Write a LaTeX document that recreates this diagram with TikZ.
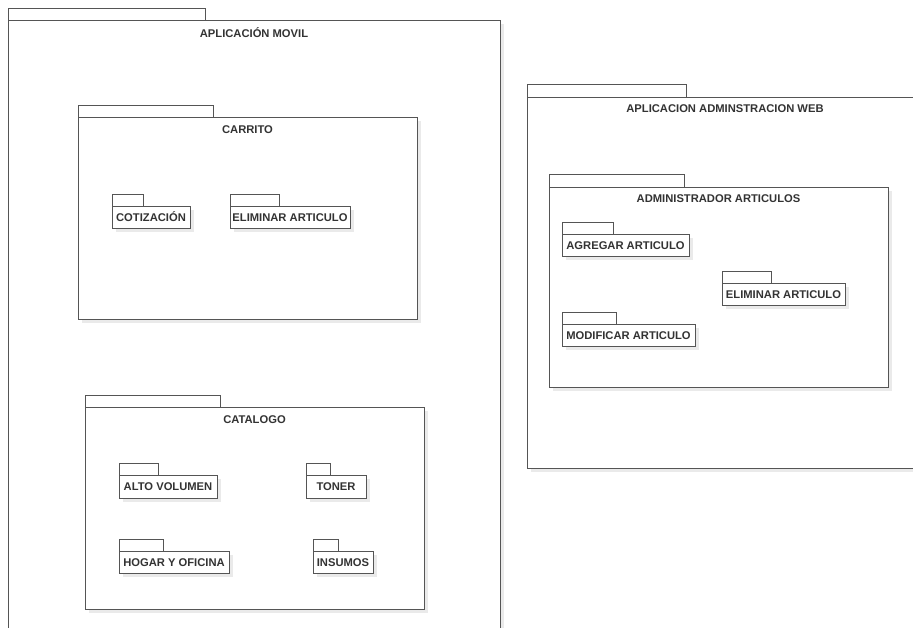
\documentclass[tikz,border=0pt]{standalone}
\usepackage{fontspec}
\setmainfont{Liberation Sans}
\usetikzlibrary{shadows,calc}
\definecolor{linec}{HTML}{555555}
\definecolor{textc}{HTML}{333333}
\definecolor{shadc}{HTML}{EAEAEA}
\tikzset{
  x=1pt,y=-1pt,
  pkgshadow/.style={drop shadow={shadow xshift=4pt,shadow yshift=-4pt,fill=shadc,opacity=1}},
  bigpkg/.style={draw=linec,fill=white,line width=0.9pt,pkgshadow,inner sep=0pt,outer sep=0pt},
  tabbox/.style={draw=linec,fill=white,line width=0.9pt},
  smallpkg/.style={draw=linec,fill=white,line width=0.9pt,pkgshadow,inner sep=0pt,outer sep=0pt,
     minimum height=22pt,text height=8pt,text depth=0pt,font=\bfseries\fontsize{11.2}{13}\selectfont,text=textc},
  pkgtitle/.style={anchor=base,font=\bfseries\fontsize{11.2}{13}\selectfont,text=textc,inner sep=0pt}
}
\begin{document}
\begin{tikzpicture}
\useasboundingbox (0,0) rectangle (913,627);
\clip (0,0) rectangle (913,627);
\fill[white] (0,0) rectangle (913,627);

% ---------- APLICACION MOVIL ----------
\draw[tabbox] (8,8) rectangle (205,20);
\node[bigpkg,minimum width=492pt,minimum height=640pt,anchor=north west] (movil) at (8,20) {};
\node[pkgtitle] (movilt) at ($(movil.north)+(0,17)$) {APLICACIÓN MOVIL};

% CARRITO
\draw[tabbox] (78,105) rectangle (213,117);
\node[bigpkg,minimum width=339pt,minimum height=202pt,anchor=north west] (carrito) at (78,117) {};
\node[pkgtitle] (carritot) at ($(carrito.north)+(0,16)$) {CARRITO};

\node[smallpkg,minimum width=78pt] (cot) at (151,217) {COTIZACIÓN};
\draw[tabbox] (cot.north west) rectangle ++(31,-12);
\node[smallpkg,minimum width=120pt] (elim1) at (290,217) {ELIMINAR ARTICULO};
\draw[tabbox] (elim1.north west) rectangle ++(49,-12);

% CATALOGO
\draw[tabbox] (85,395) rectangle (220,407);
\node[bigpkg,minimum width=339pt,minimum height=202pt,anchor=north west] (catalogo) at (85,407) {};
\node[pkgtitle] (catalogot) at ($(catalogo.north)+(0,16)$) {CATALOGO};

\node[smallpkg,minimum width=98pt,minimum height=23pt] (alto) at (168,486.5) {ALTO VOLUMEN};
\draw[tabbox] (alto.north west) rectangle ++(39,-12);
\node[smallpkg,minimum width=60pt,minimum height=23pt] (toner) at (336,486.5) {TONER};
\draw[tabbox] (toner.north west) rectangle ++(24,-12);
\node[smallpkg,minimum width=110pt] (hogar) at (174,562) {HOGAR Y OFICINA};
\draw[tabbox] (hogar.north west) rectangle ++(44,-12);
\node[smallpkg,minimum width=60pt] (insumos) at (343,562) {INSUMOS};
\draw[tabbox] (insumos.north west) rectangle ++(25,-12);

% ---------- APLICACION ADMINSTRACION WEB ----------
\draw[tabbox] (527,84) rectangle (686,97);
\node[bigpkg,minimum width=396pt,minimum height=371pt,anchor=north west] (web) at (527,97) {};
\node[pkgtitle] (webt) at ($(web.north)+(0,15)$) {APLICACION ADMINSTRACION WEB};

% ADMINISTRADOR ARTICULOS
\draw[tabbox] (549,174) rectangle (684,187);
\node[bigpkg,minimum width=339pt,minimum height=200pt,anchor=north west] (admin) at (549,187) {};
\node[pkgtitle] (admint) at ($(admin.north)+(0,15)$) {ADMINISTRADOR ARTICULOS};

\node[smallpkg,minimum width=127pt] (agregar) at (625.5,245) {AGREGAR ARTICULO};
\draw[tabbox] (agregar.north west) rectangle ++(51,-12);
\node[smallpkg,minimum width=123pt] (elim2) at (783.5,294) {ELIMINAR ARTICULO};
\draw[tabbox] (elim2.north west) rectangle ++(49,-12);
\node[smallpkg,minimum width=133pt] (modif) at (628.5,335) {MODIFICAR ARTICULO};
\draw[tabbox] (modif.north west) rectangle ++(54,-12);
\end{tikzpicture}
\end{document}
